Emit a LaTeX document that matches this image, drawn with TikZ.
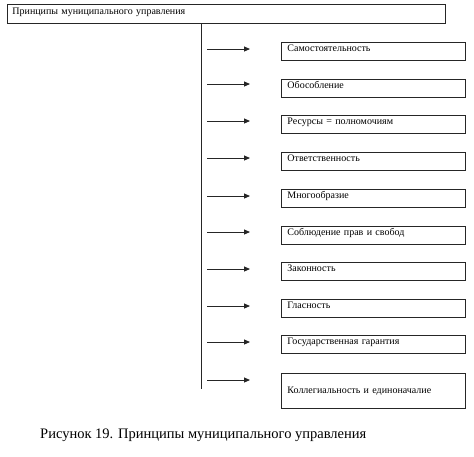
\documentclass[tikz,border=0pt]{standalone}
\usepackage{fontspec}
\setmainfont{Liberation Serif}
\usetikzlibrary{arrows.meta}
\begin{document}
\begin{tikzpicture}[x=1pt,y=-1pt,
  line/.style={draw=black!85,line width=0.9pt},
  box/.style={line,anchor=north west,minimum width=184pt,minimum height=18pt,
    text width=172pt,inner xsep=6pt,inner ysep=0pt,align=left,
    text height=9pt,text depth=9pt,font=\fontsize{10}{12}\selectfont},
  arr/.style={line,-{Triangle[length=6pt,width=5pt]}}]
\useasboundingbox[fill=white] (0,0) rectangle (474,456);
\node[line,anchor=north west,minimum width=438pt,minimum height=19pt,text width=428pt,
  inner xsep=5pt,inner ysep=0pt,align=left,text height=10pt,text depth=9pt,
  font=\fontsize{10}{12}\selectfont] (top) at (7,4) {Принципы муниципального управления};
\coordinate (vbot) at (201,389);
\draw[line] (vbot |- top.south) -- (vbot);
\node[box] (b1) at (281,42) {Самостоятельность};
\node[box] (b2) at (281,79) {Обособление};
\node[box] (b3) at (281,115) {Ресурсы = полномочиям};
\node[box] (b4) at (281,152) {Ответственность};
\node[box] (b5) at (281,189) {Многообразие};
\node[box] (b6) at (281,226) {Соблюдение прав и свобод};
\node[box] (b7) at (281,262) {Законность};
\node[box] (b8) at (281,299) {Гласность};
\node[box] (b9) at (281,335) {Государственная гарантия};
\node[line,anchor=north west,minimum width=184pt,minimum height=35pt,
  text width=172pt,inner xsep=6pt,align=left,font=\fontsize{10}{12}\selectfont]
  (b10) at (281,373) {Коллегиальность и единоначалие};
\foreach \i/\y in {1/49,2/84,3/121,4/158,5/196,6/232,7/269,8/306,9/342,10/380}{
  \coordinate (s\i) at (207,\y);
  \coordinate (e\i) at (250,\y);
  \draw[arr] (s\i) -- (e\i);
}
\node[anchor=base west,inner sep=0pt,font=\fontsize{14.5}{17}\selectfont] (cap) at (40,438)
  {Рисунок 19. Принципы муниципального управления};
\end{tikzpicture}
\end{document}
